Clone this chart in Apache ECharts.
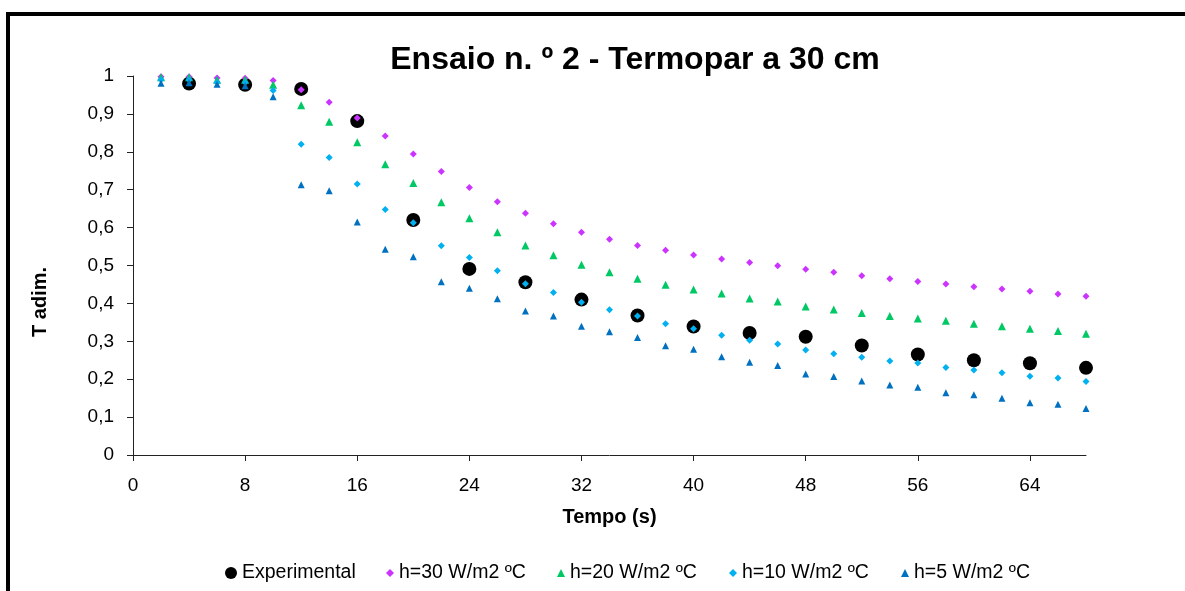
<!DOCTYPE html>
<html>
<head>
<meta charset="utf-8">
<script src="https://cdn.jsdelivr.net/npm/echarts@6/dist/echarts.min.js"></script>
<style>
html,body{margin:0;padding:0;background:#fff;}
#chart{width:1185px;height:591px;}
</style>
</head>
<body>
<div id="chart"></div>
<script>
const timeModel = [2,4,6,8,10,12,14,16,18,20,22,24,26,28,30,32,34,36,38,40,42,44,46,48,50,52,54,56,58,60,62,64,66,68];
const timeExp = [4,8,12,16,20,24,28,32,36,40,44,48,52,56,60,64,68];
const experimental = [0.98,0.977,0.966,0.881,0.62,0.491,0.456,0.41,0.368,0.339,0.322,0.312,0.289,0.265,0.25,0.242,0.23];
const h30 = [0.998,0.998,0.995,0.994,0.988,0.964,0.931,0.889,0.842,0.794,0.748,0.706,0.668,0.638,0.61,0.588,0.569,0.553,0.54,0.528,0.517,0.508,0.4995,0.49,0.482,0.473,0.465,0.458,0.451,0.444,0.438,0.432,0.425,0.419];
const h20 = [0.997,0.997,0.99,0.99,0.977,0.923,0.879,0.825,0.767,0.718,0.667,0.625,0.588,0.553,0.527,0.502,0.482,0.465,0.449,0.437,0.426,0.413,0.405,0.392,0.384,0.375,0.367,0.36,0.354,0.346,0.34,0.333,0.327,0.32];
const h10 = [0.99,0.99,0.983,0.983,0.962,0.82,0.785,0.715,0.648,0.613,0.552,0.521,0.486,0.452,0.429,0.403,0.383,0.367,0.346,0.333,0.316,0.303,0.293,0.277,0.267,0.258,0.248,0.243,0.231,0.224,0.217,0.208,0.203,0.194];
const h5 = [0.981,0.982,0.978,0.974,0.945,0.713,0.697,0.615,0.543,0.523,0.457,0.44,0.412,0.38,0.367,0.34,0.325,0.31,0.288,0.279,0.259,0.245,0.236,0.214,0.207,0.195,0.185,0.179,0.164,0.159,0.15,0.138,0.134,0.123];
const xTicks = [0,8,16,24,32,40,48,56,64];
const seriesNames = ['Experimental','h=30 W/m2 ºC','h=20 W/m2 ºC','h=10 W/m2 ºC','h=5 W/m2 ºC'];

const FONT = '"Liberation Sans", Arial, sans-serif';
const pair = (xs, ys) => xs.map((x, i) => [x, ys[i]]);

const chart = echarts.init(document.getElementById('chart'), null, {renderer: 'canvas'});

const legendBase = {
  orient: 'horizontal',
  top: 563,
  padding: 0,
  itemGap: 0,
  textStyle: {fontFamily: FONT, fontSize: 19.5, color: '#000', padding: [0,0,0,0]},
  selectedMode: false
};

const option = {
  backgroundColor: '#fff',
  animation: false,
  title: {
    text: 'Ensaio n. º 2 - Termopar a 30 cm',
    left: 630,
    top: 39,
    textAlign: 'center',
    textStyle: {fontFamily: FONT, fontSize: 32, fontWeight: 'bold', color: '#000'}
  },
  legend: [
    Object.assign({}, legendBase, {left: 225, itemWidth: 12, itemHeight: 12, data: [{name: seriesNames[0], icon: 'circle'}]}),
    Object.assign({}, legendBase, {left: 386, itemWidth: 8, itemHeight: 8, data: [{name: seriesNames[1], icon: 'diamond'}]}),
    Object.assign({}, legendBase, {left: 557, itemWidth: 8, itemHeight: 8, data: [{name: seriesNames[2], icon: 'triangle'}]}),
    Object.assign({}, legendBase, {left: 729, itemWidth: 8, itemHeight: 8, data: [{name: seriesNames[3], icon: 'diamond'}]}),
    Object.assign({}, legendBase, {left: 901, itemWidth: 8, itemHeight: 8, data: [{name: seriesNames[4], icon: 'triangle'}]})
  ],
  grid: {left: 133, right: 99, top: 76, bottom: 136, containLabel: false},
  xAxis: {
    type: 'value',
    min: 0, max: 68, interval: 8,
    name: 'Tempo (s)',
    nameLocation: 'middle',
    nameGap: 52,
    nameTextStyle: {fontFamily: FONT, fontSize: 20, fontWeight: 'bold', color: '#000'},
    axisLine: {show: true, onZero: false, lineStyle: {color: '#222', width: 1}},
    axisTick: {show: true, inside: false, length: 6, lineStyle: {color: '#222'}, customValues: xTicks},
    axisLabel: {fontFamily: FONT, fontSize: 19, color: '#000', margin: 21, customValues: xTicks},
    splitLine: {show: false}
  },
  yAxis: {
    type: 'value',
    min: 0, max: 1, interval: 0.1,
    axisLine: {show: true, lineStyle: {color: '#222', width: 1}},
    axisTick: {show: true, inside: false, length: 6, lineStyle: {color: '#222'}},
    axisLabel: {
      fontFamily: FONT, fontSize: 19, color: '#000', margin: 19,
      formatter: v => (+v.toFixed(1)).toString().replace('.', ',')
    },
    splitLine: {show: false}
  },
  graphic: [
    {
      type: 'rect', silent: true, z: 100,
      shape: {x: 8, y: 14, width: 1220, height: 640},
      style: {fill: 'none', stroke: '#000', lineWidth: 4}
    },
    {
      type: 'text', silent: true,
      x: 40, y: 302, rotation: Math.PI / 2,
      style: {text: 'T adim.', fontFamily: FONT, fontSize: 20, fontWeight: 'bold', fill: '#000', align: 'center', verticalAlign: 'middle'}
    }
  ],
  series: [
    {name: seriesNames[0], type: 'scatter', symbol: 'circle', symbolSize: 14,
     itemStyle: {color: '#000', opacity: 1}, data: pair(timeExp, experimental)},
    {name: seriesNames[1], type: 'scatter', symbol: 'diamond', symbolSize: 7,
     itemStyle: {color: '#CC33FF', opacity: 1}, data: pair(timeModel, h30)},
    {name: seriesNames[2], type: 'scatter', symbol: 'triangle', symbolSize: 8,
     itemStyle: {color: '#00C864', opacity: 1}, data: pair(timeModel, h20)},
    {name: seriesNames[3], type: 'scatter', symbol: 'diamond', symbolSize: 7,
     itemStyle: {color: '#00B0F0', opacity: 1}, data: pair(timeModel, h10)},
    {name: seriesNames[4], type: 'scatter', symbol: 'triangle', symbolSize: 7,
     itemStyle: {color: '#0070C0', opacity: 1}, data: pair(timeModel, h5)}
  ]
};
chart.setOption(option);
</script>
</body>
</html>
